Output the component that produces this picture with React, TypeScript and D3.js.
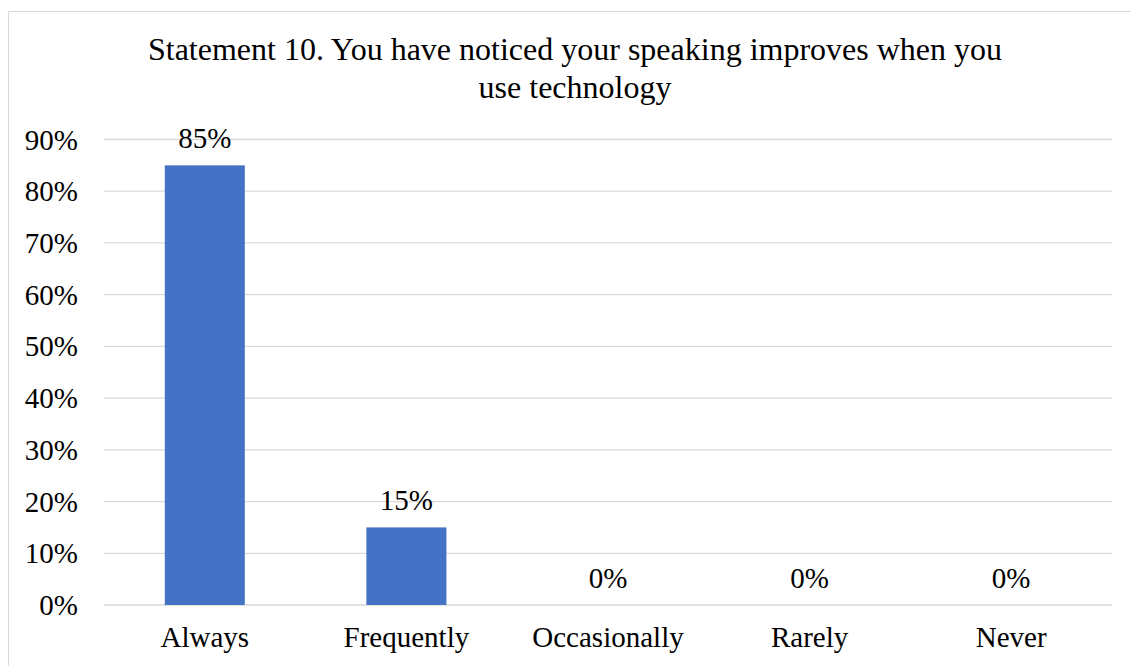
import React from "react";
import * as d3 from "d3";

// chart values
const categories = ["Always", "Frequently", "Occasionally", "Rarely", "Never"];
const values = [85, 15, 0, 0, 0];
const yTicks = [0, 10, 20, 30, 40, 50, 60, 70, 80, 90];
const titleLines = [
  "Statement 10. You have noticed your speaking improves when you",
  "use technology",
];

const W = 1131, H = 666;
const plot = { left: 104, right: 1112, top: 139.5, bottom: 605 };
const font = "'Liberation Serif', 'Times New Roman', serif";

function App() {
  const x = d3.scaleBand<string>()
    .domain(categories)
    .range([plot.left, plot.right])
    .paddingInner(0.603)
    .paddingOuter(0.3015);
  const y = d3.scaleLinear().domain([0, 90]).range([plot.bottom, plot.top]);
  const cx = (c: string) => (x(c) as number) + x.bandwidth() / 2;

  return (
    <div style={{ position: "absolute", left: 0, top: 0 }}>
      <svg width={W} height={H} style={{ display: "block" }}>
        <rect x={0} y={0} width={W} height={H} fill="#fff" />
        {/* chart area outline, runs off the right and bottom */}
        <rect x={8.5} y={11.5} width={W + 20} height={H + 20} fill="none" stroke="#d9d9d9" strokeWidth={1} />

        {titleLines.map((t, i) => (
          <text key={i} x={575} y={60 + i * 38} textAnchor="middle" fontFamily={font} fontSize={32} fill="#000">
            {t}
          </text>
        ))}

        {yTicks.map((t) => (
          <g key={t}>
            <line x1={plot.left} x2={plot.right} y1={y(t)} y2={y(t)} stroke="#d9d9d9" strokeWidth={1.3} />
            <text x={78} y={y(t) + 10} textAnchor="end" fontFamily={font} fontSize={29} fill="#000">
              {t}%
            </text>
          </g>
        ))}

        {categories.map((c, i) => (
          <g key={c}>
            <rect x={x(c)} y={y(values[i])} width={x.bandwidth()} height={y(0) - y(values[i])} fill="#4472c4" />
            <text x={cx(c)} y={y(values[i]) - 17} textAnchor="middle" fontFamily={font} fontSize={29} fill="#000">
              {values[i]}%
            </text>
            <text x={cx(c)} y={647} textAnchor="middle" fontFamily={font} fontSize={29} fill="#000">
              {c}
            </text>
          </g>
        ))}
      </svg>
    </div>
  );
}

export default App;
